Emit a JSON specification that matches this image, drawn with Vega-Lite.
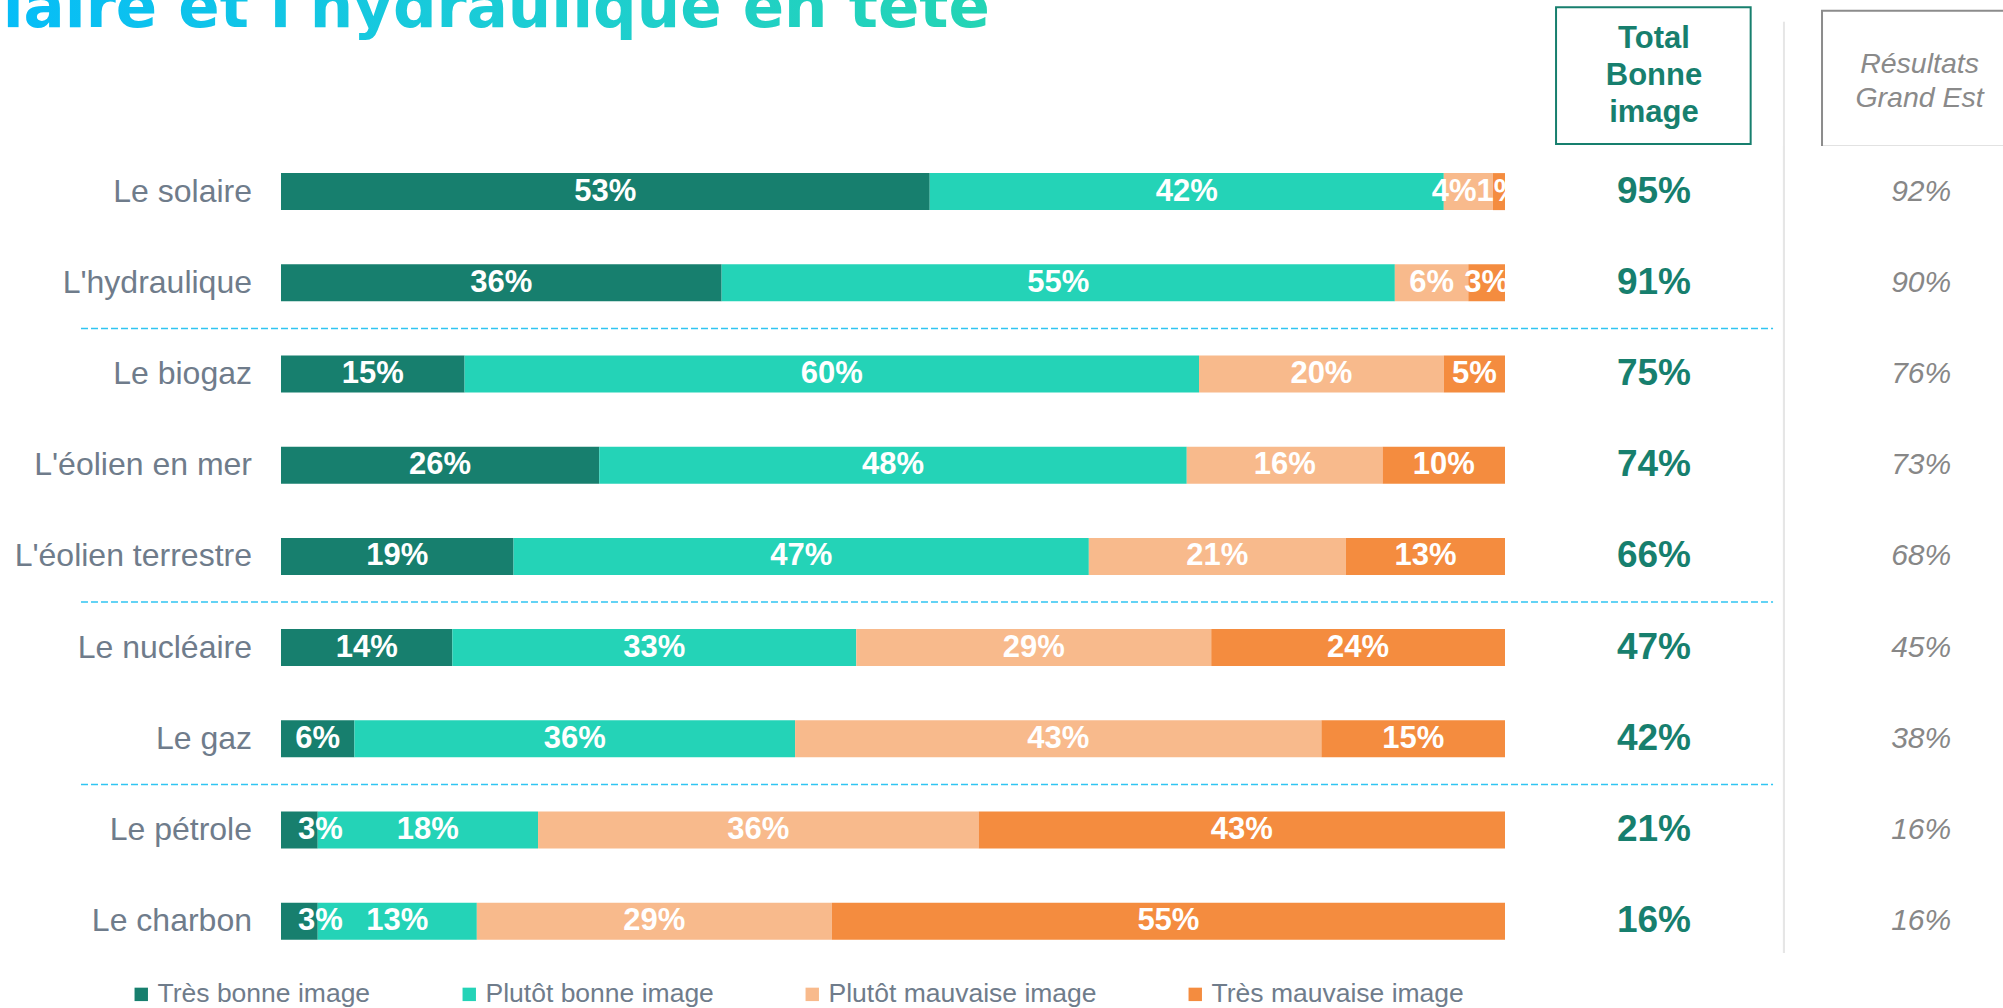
{
  "$schema": "https://vega.github.io/schema/vega-lite/v6.json",
  "padding": 0,
  "spacing": 0,
  "bounds": "flush",
  "background": "white",
  "config": {"view": {"stroke": null}},
  "resolve": {"legend": {"color": "independent"}},
  "datasets": {
    "bars": [
      {"cat": "Le solaire", "type": "Très bonne image", "code": 1, "value": 0.53},
      {"cat": "Le solaire", "type": "Plutôt bonne image", "code": 2, "value": 0.42},
      {"cat": "Le solaire", "type": "Plutôt mauvaise image", "code": 3, "value": 0.04},
      {"cat": "Le solaire", "type": "Très mauvaise image", "code": 4, "value": 0.01},
      {"cat": "L'hydraulique", "type": "Très bonne image", "code": 1, "value": 0.36},
      {"cat": "L'hydraulique", "type": "Plutôt bonne image", "code": 2, "value": 0.55},
      {"cat": "L'hydraulique", "type": "Plutôt mauvaise image", "code": 3, "value": 0.06},
      {"cat": "L'hydraulique", "type": "Très mauvaise image", "code": 4, "value": 0.03},
      {"cat": "Le biogaz", "type": "Très bonne image", "code": 1, "value": 0.15},
      {"cat": "Le biogaz", "type": "Plutôt bonne image", "code": 2, "value": 0.60},
      {"cat": "Le biogaz", "type": "Plutôt mauvaise image", "code": 3, "value": 0.20},
      {"cat": "Le biogaz", "type": "Très mauvaise image", "code": 4, "value": 0.05},
      {"cat": "L'éolien en mer", "type": "Très bonne image", "code": 1, "value": 0.26},
      {"cat": "L'éolien en mer", "type": "Plutôt bonne image", "code": 2, "value": 0.48},
      {"cat": "L'éolien en mer", "type": "Plutôt mauvaise image", "code": 3, "value": 0.16},
      {"cat": "L'éolien en mer", "type": "Très mauvaise image", "code": 4, "value": 0.10},
      {"cat": "L'éolien terrestre", "type": "Très bonne image", "code": 1, "value": 0.19},
      {"cat": "L'éolien terrestre", "type": "Plutôt bonne image", "code": 2, "value": 0.47},
      {"cat": "L'éolien terrestre", "type": "Plutôt mauvaise image", "code": 3, "value": 0.21},
      {"cat": "L'éolien terrestre", "type": "Très mauvaise image", "code": 4, "value": 0.13},
      {"cat": "Le nucléaire", "type": "Très bonne image", "code": 1, "value": 0.14},
      {"cat": "Le nucléaire", "type": "Plutôt bonne image", "code": 2, "value": 0.33},
      {"cat": "Le nucléaire", "type": "Plutôt mauvaise image", "code": 3, "value": 0.29},
      {"cat": "Le nucléaire", "type": "Très mauvaise image", "code": 4, "value": 0.24},
      {"cat": "Le gaz", "type": "Très bonne image", "code": 1, "value": 0.06},
      {"cat": "Le gaz", "type": "Plutôt bonne image", "code": 2, "value": 0.36},
      {"cat": "Le gaz", "type": "Plutôt mauvaise image", "code": 3, "value": 0.43},
      {"cat": "Le gaz", "type": "Très mauvaise image", "code": 4, "value": 0.15},
      {"cat": "Le pétrole", "type": "Très bonne image", "code": 1, "value": 0.03},
      {"cat": "Le pétrole", "type": "Plutôt bonne image", "code": 2, "value": 0.18},
      {"cat": "Le pétrole", "type": "Plutôt mauvaise image", "code": 3, "value": 0.36},
      {"cat": "Le pétrole", "type": "Très mauvaise image", "code": 4, "value": 0.43},
      {"cat": "Le charbon", "type": "Très bonne image", "code": 1, "value": 0.03},
      {"cat": "Le charbon", "type": "Plutôt bonne image", "code": 2, "value": 0.13},
      {"cat": "Le charbon", "type": "Plutôt mauvaise image", "code": 3, "value": 0.29},
      {"cat": "Le charbon", "type": "Très mauvaise image", "code": 4, "value": 0.55}
    ],
    "cats": [
      {"cat": "Le solaire", "total": 0.95, "ge": 0.92},
      {"cat": "L'hydraulique", "total": 0.91, "ge": 0.90},
      {"cat": "Le biogaz", "total": 0.75, "ge": 0.76},
      {"cat": "L'éolien en mer", "total": 0.74, "ge": 0.73},
      {"cat": "L'éolien terrestre", "total": 0.66, "ge": 0.68},
      {"cat": "Le nucléaire", "total": 0.47, "ge": 0.45},
      {"cat": "Le gaz", "total": 0.42, "ge": 0.38},
      {"cat": "Le pétrole", "total": 0.21, "ge": 0.16},
      {"cat": "Le charbon", "total": 0.16, "ge": 0.16}
    ],
    "seps": [{"cat": "Le biogaz"}, {"cat": "Le nucléaire"}, {"cat": "Le pétrole"}],
    "titre": [{"t": "Le solaire et l'hydraulique en tête"}]
  },
  "vconcat": [
    {
      "width": 2003,
      "height": 146,
      "data": {"name": "titre"},
      "layer": [
        {
          "mark": {"type": "text", "align": "left", "baseline": "alphabetic", "font": "DejaVu Sans", "fontWeight": "bold", "fontSize": 61, "clip": true,
            "fill": {"gradient": "linear", "x1": 0, "x2": 1, "y1": 0, "y2": 0, "stops": [{"offset": 0, "color": "#00b6ff"}, {"offset": 0.15, "color": "#06bdf8"}, {"offset": 0.6, "color": "#1ccdd4"}, {"offset": 1, "color": "#24d4b4"}]}},
          "encoding": {
            "x": {"datum": -0.3742, "type": "quantitative", "scale": {"domain": [-0.22957, 1.40686], "nice": false, "zero": false}, "axis": null},
            "y": {"datum": 18.8, "type": "quantitative", "scale": {"domain": [0, 100], "nice": false, "zero": false, "reverse": true}, "axis": null},
            "text": {"field": "t"}
          }
        },
        {
          "mark": {"type": "rect", "fill": null, "stroke": "#177f6e", "strokeWidth": 2},
          "encoding": {
            "x": {"datum": 1.0417, "type": "quantitative"},
            "x2": {"datum": 1.2007},
            "y": {"datum": 5.0, "type": "quantitative"},
            "y2": {"datum": 98.63}
          }
        },
        {
          "mark": {"type": "rect", "fill": null, "stroke": "#8c8c8c", "strokeWidth": 2, "clip": true},
          "encoding": {
            "x": {"datum": 1.259, "type": "quantitative"},
            "x2": {"datum": 1.45},
            "y": {"datum": 7.33, "type": "quantitative"},
            "y2": {"datum": 100.48}
          }
        },
        {
          "mark": {"type": "text", "align": "center", "baseline": "alphabetic", "font": "Liberation Sans", "fontWeight": "bold", "fontSize": 31, "lineHeight": 37, "color": "#177f6e"},
          "encoding": {
            "x": {"datum": 1.1217, "type": "quantitative"},
            "y": {"datum": 32.88, "type": "quantitative"},
            "text": {"value": ["Total", "Bonne", "image"]}
          }
        },
        {
          "mark": {"type": "text", "align": "center", "baseline": "alphabetic", "font": "Liberation Sans", "fontStyle": "italic", "fontSize": 28.5, "lineHeight": 34, "color": "#8a8a8a"},
          "encoding": {
            "x": {"datum": 1.3387, "type": "quantitative"},
            "y": {"datum": 49.8, "type": "quantitative"},
            "text": {"value": ["Résultats", "Grand Est"]}
          }
        },
        {
          "mark": {"type": "rule", "stroke": "#e6e6e6", "strokeWidth": 2},
          "encoding": {
            "x": {"datum": 1.2279, "type": "quantitative"},
            "y": {"datum": 14.86, "type": "quantitative"},
            "y2": {"datum": 100}
          }
        }
      ]
    },
    {
      "width": 2003,
      "height": 820.8,
      "layer": [
        {
          "data": {"name": "seps"},
          "mark": {"type": "rule", "stroke": "#30c5f2", "strokeWidth": 1.5, "strokeDash": [7, 3]},
          "encoding": {
            "x": {"datum": -0.1634, "type": "quantitative", "scale": {"domain": [-0.22957, 1.40686], "nice": false, "zero": false}, "axis": null},
            "x2": {"datum": 1.219},
            "y": {"field": "cat", "type": "nominal", "bandPosition": 0, "scale": {"domain": ["Le solaire", "L'hydraulique", "Le biogaz", "L'éolien en mer", "L'éolien terrestre", "Le nucléaire", "Le gaz", "Le pétrole", "Le charbon"], "paddingInner": 0, "paddingOuter": 0}, "axis": null}
          }
        },
        {
          "data": {"name": "seps"},
          "mark": {"type": "rule", "stroke": "#e6e6e6", "strokeWidth": 2},
          "encoding": {
            "x": {"datum": 1.2279, "type": "quantitative"},
            "y": {"datum": "Le solaire", "type": "nominal", "bandPosition": 0},
            "y2": {"datum": "Le charbon", "bandPosition": 0.85}
          }
        },
        {
          "data": {"name": "bars"},
          "mark": {"type": "bar", "height": {"band": 0.406}},
          "encoding": {
            "y": {"field": "cat", "type": "nominal"},
            "x": {"field": "value", "type": "quantitative", "stack": "zero"},
            "order": {"field": "code", "type": "quantitative"},
            "color": {
              "field": "type", "type": "nominal",
              "scale": {"domain": ["Très bonne image", "Plutôt bonne image", "Plutôt mauvaise image", "Très mauvaise image"], "range": ["#177f6e", "#24d3b7", "#f8ba8c", "#f48c3f"]},
              "legend": {"orient": "none", "legendX": 128, "legendY": 835, "direction": "horizontal", "title": null, "symbolType": "square", "symbolSize": 180, "symbolStrokeWidth": 0, "symbolOpacity": 1, "labelFont": "Liberation Sans", "labelFontSize": 26.5, "labelColor": "#6f7c8b", "labelOffset": 3, "columnPadding": 85, "padding": 0, "labelLimit": 600}
            }
          }
        },
        {
          "data": {"name": "bars"},
          "mark": {"type": "text", "color": "white", "font": "Liberation Sans", "fontWeight": "bold", "fontSize": 31, "baseline": "middle", "align": "center",
            "dx": {"expr": "datum.code == 1 && datum.value < 0.05 ? 21 : (datum.code == 3 && datum.value < 0.05 ? -14 : 0)"}},
          "encoding": {
            "y": {"field": "cat", "type": "nominal"},
            "x": {"field": "value", "type": "quantitative", "stack": "zero", "bandPosition": 0.5},
            "order": {"field": "code", "type": "quantitative"},
            "detail": {"field": "type"},
            "text": {"field": "value", "type": "quantitative", "format": ".0%"}
          }
        },
        {
          "data": {"name": "cats"},
          "mark": {"type": "text", "align": "right", "baseline": "middle", "font": "Liberation Sans", "fontSize": 32, "color": "#6f7c8b"},
          "encoding": {
            "y": {"field": "cat", "type": "nominal"},
            "x": {"datum": -0.0237, "type": "quantitative"},
            "text": {"field": "cat"}
          }
        },
        {
          "data": {"name": "cats"},
          "mark": {"type": "text", "align": "center", "baseline": "middle", "font": "Liberation Sans", "fontWeight": "bold", "fontSize": 37, "color": "#177f6e"},
          "encoding": {
            "y": {"field": "cat", "type": "nominal"},
            "x": {"datum": 1.1217, "type": "quantitative"},
            "text": {"field": "total", "type": "quantitative", "format": ".0%"}
          }
        },
        {
          "data": {"name": "cats"},
          "mark": {"type": "text", "align": "center", "baseline": "middle", "font": "Liberation Sans", "fontStyle": "italic", "fontSize": 30, "color": "#878787"},
          "encoding": {
            "y": {"field": "cat", "type": "nominal"},
            "x": {"datum": 1.340, "type": "quantitative"},
            "text": {"field": "ge", "type": "quantitative", "format": ".0%"}
          }
        }
      ]
    }
  ]
}
